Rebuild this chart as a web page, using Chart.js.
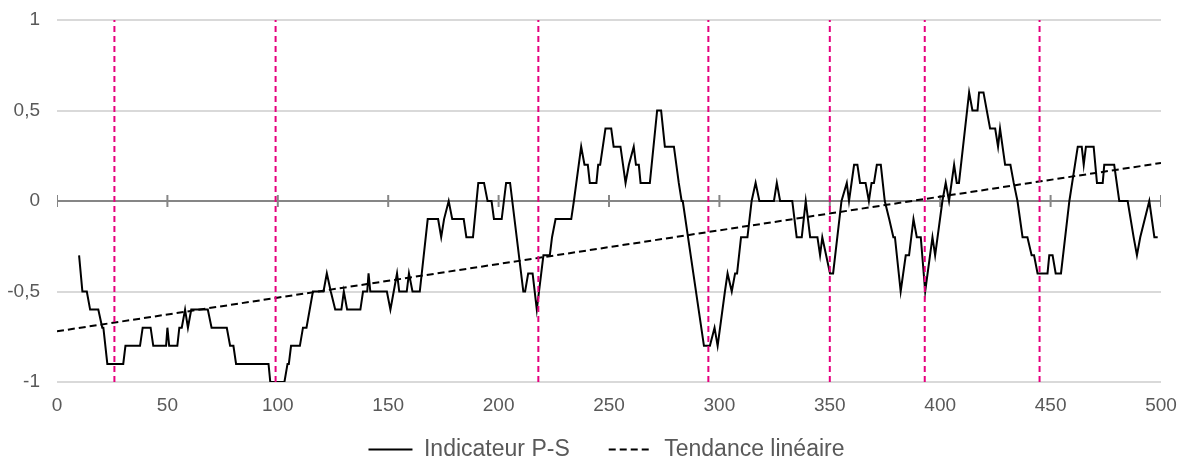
<!DOCTYPE html>
<html>
<head>
<meta charset="utf-8">
<script src="https://cdn.jsdelivr.net/npm/chart.js@4/dist/chart.umd.min.js"></script>
<style>
  html, body { margin: 0; padding: 0; background: #fff; }
  #wrap { width: 1190px; height: 462px; }
</style>
</head>
<body>
<div id="wrap"><canvas id="chart"></canvas></div>
<script>
// indicator P-S, vertices
const psX = [10, 11.5, 13.5, 15, 18.7, 20.5, 21, 22.8, 30, 31, 37.6, 38.8, 42.4, 43.6, 49.4, 50, 50.8, 54.5, 55.4, 56.5,
  58, 59.3, 60.8, 68.3, 70, 76.9, 78.4, 79.9, 81.1, 95.8, 96.6, 103, 104.4, 105, 106, 110, 111.4, 113, 115.9, 120.7,
  122.2, 124, 126, 128.8, 129.9, 131.4, 137.4, 138.6, 140.5, 141.1, 141.9, 149.4, 151, 152.5, 154, 155, 158.4, 159.4, 161, 164.3,
  167.9, 172.6, 174, 175.3, 177.4, 179, 184.2, 185.4, 188.4, 190.8, 193.4, 195, 196.8, 197.9, 201.4, 203.4, 205.2, 211.2, 212, 213.4,
  215.4, 217.3, 220.3, 223.2, 224.2, 225.8, 232.9, 234.1, 237.4, 238.9, 240.4, 241.3, 244.3, 245.1, 246, 248.4, 251, 252.1, 255.2, 257.5,
  259, 261.2, 262.2, 263.5, 264.3, 268.5, 271.8, 273.6, 275.3, 279.4, 281.6, 282.9, 283.4, 293, 295.7, 297.8, 299.2, 302.5, 303.7, 305.6,
  307.1, 308, 309.8, 312.7, 314.6, 316.4, 318.1, 324.7, 326, 327.5, 333, 335, 337.3, 339.1, 341.1, 344.4, 345.6, 346.6, 350.1, 351.5,
  355.3, 357.7, 358.7, 361, 362.5, 363.7, 366.2, 367.7, 368.9, 370, 371.3, 373.1, 374.9, 376.9, 378.8, 379.5, 382.1, 384.4, 385.9, 387.9,
  389.4, 391.2, 393.2, 396.5, 397.7, 401, 402.5, 404, 406.3, 407.5, 408.5, 413.1, 414.6, 416.9, 417.6, 419.6, 421.1, 422.6, 424.9, 426.2,
  427.1, 429.4, 431.8, 433.3, 435, 437.3, 439.5, 441.4, 442.5, 444.1, 448.6, 449.4, 450.9, 452.3, 454.7, 458.5, 462.3, 464.1, 465, 466,
  469.5, 471, 473.6, 474.3, 478.8, 481.1, 484.9, 487.6, 489.1, 490.6, 494.7, 497, 498.5];
const psY = [-0.3, -0.5, -0.5, -0.6, -0.6, -0.7, -0.7, -0.9, -0.9, -0.8, -0.8, -0.7, -0.7, -0.8, -0.8, -0.7, -0.8, -0.8, -0.7, -0.7,
  -0.6, -0.7, -0.6, -0.6, -0.7, -0.7, -0.8, -0.8, -0.9, -0.9, -1, -1, -0.9, -0.9, -0.8, -0.8, -0.7, -0.7, -0.5, -0.5,
  -0.4, -0.5, -0.6, -0.6, -0.5, -0.6, -0.6, -0.5, -0.5, -0.4, -0.5, -0.5, -0.6, -0.5, -0.4, -0.5, -0.5, -0.4, -0.5, -0.5,
  -0.1, -0.1, -0.2, -0.1, 0, -0.1, -0.1, -0.2, -0.2, 0.1, 0.1, 0, 0, -0.1, -0.1, 0.1, 0.1, -0.5, -0.5, -0.4,
  -0.4, -0.6, -0.3, -0.3, -0.2, -0.1, -0.1, 0, 0.3, 0.2, 0.2, 0.1, 0.1, 0.2, 0.2, 0.4, 0.4, 0.3, 0.3, 0.1,
  0.2, 0.3, 0.2, 0.2, 0.1, 0.1, 0.5, 0.5, 0.3, 0.3, 0.1, 0, 0, -0.8, -0.8, -0.7, -0.8, -0.5, -0.4, -0.5,
  -0.4, -0.4, -0.2, -0.2, 0, 0.1, 0, 0, 0.1, 0, 0, -0.2, -0.2, 0, -0.2, -0.2, -0.3, -0.2, -0.4, -0.4,
  0, 0.1, 0, 0.2, 0.2, 0.1, 0.1, 0, 0.1, 0.1, 0.2, 0.2, 0, -0.1, -0.2, -0.2, -0.5, -0.3, -0.3, -0.1,
  -0.2, -0.2, -0.5, -0.2, -0.3, 0, 0.1, 0, 0.2, 0.1, 0.1, 0.6, 0.5, 0.5, 0.6, 0.6, 0.5, 0.4, 0.4, 0.3,
  0.4, 0.2, 0.2, 0.1, 0, -0.2, -0.2, -0.3, -0.3, -0.4, -0.4, -0.3, -0.3, -0.4, -0.4, 0, 0.3, 0.3, 0.2, 0.3,
  0.3, 0.1, 0.1, 0.2, 0.2, 0, 0, -0.2, -0.3, -0.2, 0, -0.2, -0.2];

// linear trend end points
const trendX = [0, 500];
const trendY = [-0.72, 0.21];

// pink dashed markers
const markerX = [26, 99, 218, 295, 350, 393, 445];

const xTicks = [0, 50, 100, 150, 200, 250, 300, 350, 400, 450, 500];
const yTicks = [-1, -0.5, 0, 0.5, 1];

const LABEL = '#595959';
const PINK = '#e6007e';
const FONT = '"Liberation Sans", Arial, sans-serif';

const markerSets = markerX.map(x => ({
    label: '',
    data: [{ x: x, y: yTicks[0] }, { x: x, y: yTicks[yTicks.length - 1] }],
    borderColor: PINK,
    borderWidth: 2,
    borderDash: [6, 4],
    pointRadius: 0,
    order: 0
}));

// the legend sits a bit right of centre and closer to the axis labels
// (only the top moves up, so its clip box still holds the items)
const legendNudge = {
    id: 'legendNudge',
    afterLayout(c) {
        const l = c.legend;
        l.left += 26; l.right += 26;
        l.top -= 23;
    }
};

const chart = new Chart(document.getElementById('chart'), {
    type: 'line',
    data: {
        datasets: [
            {
                label: 'Indicateur P-S',
                data: psX.map((x, i) => ({ x: x, y: psY[i] })),
                borderColor: '#000',
                backgroundColor: '#000',
                borderWidth: 2,
                pointRadius: 0,
                order: 1
            },
            {
                label: 'Tendance linéaire',
                data: trendX.map((x, i) => ({ x: x, y: trendY[i] })),
                borderColor: '#000',
                backgroundColor: '#000',
                borderWidth: 2,
                borderDash: [7, 4],
                pointRadius: 0,
                order: 2
            },
            // small ticks on the zero axis
            {
                label: '',
                data: xTicks.map(x => ({ x: x, y: 0 })),
                showLine: false,
                pointStyle: 'line',
                rotation: 90,
                pointRadius: 6,
                pointBorderWidth: 2,
                borderColor: '#868686',
                order: 3
            },
            ...markerSets
        ]
    },
    plugins: [legendNudge],
    options: {
        responsive: true,
        maintainAspectRatio: false,
        animation: false,
        events: [],
        layout: { padding: { left: 0, right: 29, top: 20, bottom: 0 } },
        scales: {
            x: {
                type: 'linear',
                min: 0,
                max: 500,
                afterBuildTicks: s => { s.ticks = xTicks.map(v => ({ value: v })); },
                grid: { display: false, tickLength: 4 },
                border: { display: false },
                ticks: {
                    color: LABEL,
                    padding: 8,
                    maxRotation: 0,
                    autoSkip: false,
                    font: { family: FONT, size: 19 }
                },
                afterFit: s => { s.height = 40; }
            },
            y: {
                min: -1,
                max: 1,
                afterBuildTicks: s => { s.ticks = yTicks.map(v => ({ value: v })); },
                border: { display: false },
                grid: {
                    lineWidth: 2,
                    tickLength: 17,
                    tickColor: 'rgba(0,0,0,0)',
                    color: c => (c.tick && c.tick.value === 0 ? '#868686' : '#d9d9d9')
                },
                ticks: {
                    color: LABEL,
                    padding: 0,
                    font: { family: FONT, size: 19 },
                    callback: v => String(v).replace('.', ',')
                },
                afterFit: s => { s.width = 57; }
            }
        },
        plugins: {
            tooltip: { enabled: false },
            legend: {
                position: 'bottom',
                maxHeight: 40,
                labels: {
                    color: LABEL,
                    font: { family: FONT, size: 23 },
                    padding: 39,
                    usePointStyle: true,
                    pointStyle: 'line',
                    pointStyleWidth: 44,
                    filter: item => item.text !== '',
                    generateLabels: c => {
                        const items = Chart.defaults.plugins.legend.labels.generateLabels(c);
                        items.forEach(it => {
                            const ds = c.data.datasets[it.datasetIndex];
                            it.lineDash = ds.borderDash || [];
                            it.lineWidth = 2;
                            it.strokeStyle = '#000';
                        });
                        return items;
                    }
                }
            }
        }
    }
});
</script>
</body>
</html>
